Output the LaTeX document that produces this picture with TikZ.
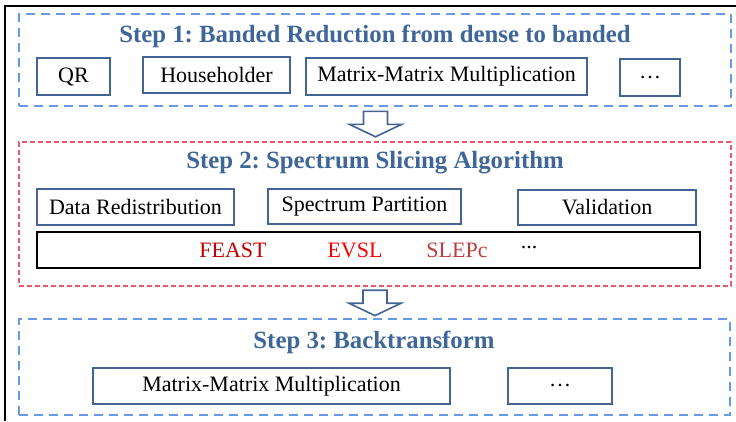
\documentclass[tikz,border=0pt]{standalone}
\usepackage{fontspec}
\setmainfont{Liberation Serif}
\usetikzlibrary{calc}
\frenchspacing
\definecolor{titleblue}{RGB}{62,102,152}
\definecolor{boxblue}{RGB}{68,100,148}
\definecolor{dashblue}{RGB}{102,153,230}
\definecolor{dashred}{RGB}{232,88,110}
\definecolor{feastred}{RGB}{192,0,0}
\definecolor{evslred}{RGB}{250,0,0}
\definecolor{slepcred}{RGB}{190,60,60}
\tikzset{
  stepbluebox/.style={draw=dashblue, line width=2.8pt, dash pattern=on 9pt off 6pt},
  stepredbox/.style={draw=dashred, line width=2.5pt, dash pattern=on 5pt off 3pt},
  steptitle/.style={text=titleblue, font=\fontsize{24.8}{28}\selectfont\bfseries},
  taskbox/.style={draw=boxblue, line width=1.4pt, inner sep=0pt, font=\fontsize{22}{26}\selectfont},
  solverbox/.style={draw=black, line width=1.8pt, inner sep=0pt},
  solver/.style={font=\fontsize{22}{26}\selectfont},
  blockarrow/.style={draw=boxblue, line width=1.6pt, fill=white, line join=miter}
}
\def\steparrow(#1)(#2){\draw[blockarrow] ($(#1)+(-12,0)$) -- ($(#1)+(12,0)$) -- ($(#1)+(12,13)$) -- ($(#1)+(26,13)$) -- (#2) -- ($(#1)+(-26,13)$) -- ($(#1)+(-12,13)$) -- cycle;}

\begin{document}
\begin{tikzpicture}[x=1pt, y=-1pt]
		\useasboundingbox (0,0) rectangle (736,421);
		% outer frame
		\draw[line width=1.6pt] (5,421) -- (5,6) -- (736,6);
		
		% step 1
		\node[stepbluebox, minimum width=712pt, minimum height=92pt] (step1) at (375,60) {};
		\node[steptitle] (title1) at (375,36) {Step 1: Banded Reduction from dense to banded};
		\node[taskbox, minimum width=73pt, minimum height=37pt] (qr) at (73.5,76.5) {QR};
		\node[taskbox, minimum width=147pt, minimum height=36pt] (house) at (216.5,75) {Householder};
		\node[taskbox, minimum width=281pt, minimum height=37pt] (mmmone) at (446.5,76.5) {Matrix-Matrix Multiplication};
		\node[taskbox, minimum width=60pt, minimum height=37pt] (moreone) at (650,77.5) {…};
		
		% step 2
		\node[stepredbox, minimum width=712pt, minimum height=144pt] (step2) at (375,214) {};
		\node[steptitle] (title2) at (375,163) {Step 2: Spectrum Slicing Algorithm};
		\node[taskbox, minimum width=197pt, minimum height=36pt] (redist) at (135.5,207) {Data Redistribution};
		\node[taskbox, minimum width=193pt, minimum height=35pt] (partition) at (364.5,206.5) {Spectrum Partition};
		\node[taskbox, minimum width=178pt, minimum height=35pt] (valid) at (607,207.5) {Validation};
		\node[solverbox, minimum width=663pt, minimum height=36pt] (solvers) at (368.5,250) {};
		\node[solver, text=feastred] (feast) at (233,250) {FEAST};
		\node[solver, text=evslred] (evsl) at (355,250) {EVSL};
		\node[solver, text=slepcred] (slepc) at (457,250) {SLEPc};
		\node[solver] (moresolver) at (529,248) {...};
		
		% step 3
		\node[stepbluebox, minimum width=711pt, minimum height=96pt] (step3) at (374.5,367) {};
		\node[steptitle] (title3) at (374,342) {Step 3: Backtransform};
		\node[taskbox, minimum width=357pt, minimum height=36pt] (mmmthree) at (271.5,386) {Matrix-Matrix Multiplication};
		\node[taskbox, minimum width=104pt, minimum height=36pt] (morethree) at (560,386) {…};
		
		% arrows between steps
		\coordinate (arrowone) at ($(step1.south)+(0.5,4)$);
		\coordinate (tipone) at ($(step2.north)+(0.5,-4)$);
		\steparrow(arrowone)(tipone);
		\coordinate (arrowtwo) at ($(step2.south)+(0,3)$);
		\coordinate (tiptwo) at ($(step3.north)+(0.5,-2)$);
		\steparrow(arrowtwo)(tiptwo);
\end{tikzpicture}
\end{document}
